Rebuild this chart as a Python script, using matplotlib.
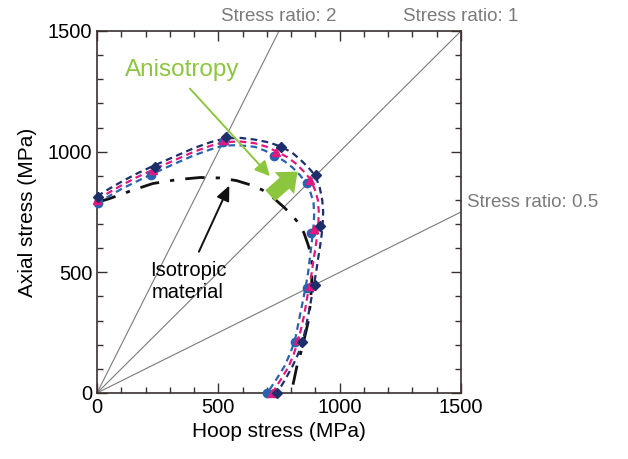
import matplotlib.pyplot as plt
from matplotlib.ticker import MultipleLocator

# measured failure points (hoop, axial) in MPa
navy_x = [5, 239, 530, 758, 902, 919, 898, 843, 740]
navy_y = [811, 938, 1062, 1019, 903, 692, 448, 213, 0]
pink_x = [0, 229, 525, 736, 877, 894, 877, 828, 720]
pink_y = [798, 924, 1050, 1000, 883, 680, 443, 220, 0]
blue_x = [5, 222, 520, 729, 864, 880, 866, 816, 702]
blue_y = [786, 903, 1041, 982, 869, 664, 434, 213, 0]

# fitted curves
navy_cx = [0, 50, 100, 160, 230, 320, 400, 470, 530, 590, 650, 710, 760, 805, 840, 872, 900, 918, 928, 932, 930, 925, 918, 910, 903, 893, 883, 872, 860, 848, 828, 805, 775, 742]
navy_cy = [815, 846, 875, 907, 940, 980, 1015, 1040, 1055, 1057, 1050, 1038, 1020, 995, 965, 933, 900, 850, 800, 750, 700, 650, 600, 550, 500, 445, 390, 330, 270, 215, 160, 110, 55, 0]
pink_cx = [0, 50, 100, 160, 230, 320, 400, 470, 530, 590, 650, 700, 740, 785, 820, 852, 880, 898, 910, 914, 912, 907, 900, 892, 885, 875, 865, 855, 843, 830, 812, 790, 757, 722]
pink_cy = [800, 831, 860, 892, 925, 965, 1000, 1025, 1040, 1042, 1035, 1020, 1000, 977, 950, 918, 885, 842, 800, 750, 700, 650, 600, 550, 500, 445, 390, 330, 275, 220, 165, 110, 55, 0]
blue_cx = [0, 50, 100, 160, 222, 320, 400, 470, 520, 580, 650, 690, 730, 770, 805, 836, 862, 880, 892, 895, 893, 888, 882, 876, 870, 860, 849, 838, 826, 815, 795, 772, 738, 702]
blue_cy = [785, 816, 845, 875, 905, 950, 985, 1010, 1025, 1027, 1020, 1005, 985, 962, 935, 903, 870, 830, 790, 745, 700, 650, 600, 550, 500, 440, 385, 330, 270, 215, 162, 110, 55, 0]
iso_x = [0, 50, 140, 230, 330, 425, 505, 575, 630, 680, 725, 770, 800, 830, 852, 868, 880, 886, 886, 883, 878, 870, 860, 850, 837, 823, 812, 800]
iso_y = [790, 805, 838, 868, 884, 893, 891, 880, 863, 842, 810, 770, 740, 705, 665, 620, 580, 540, 490, 430, 360, 294, 250, 207, 157, 108, 55, 0]

ratios = [2, 1, 0.5]

NAVY = "#1d2f6b"
PINK = "#e5177e"
BLUE = "#2a62b0"
GREEN = "#8cc63f"
GREY = "#7a7a7a"

plt.rcParams["font.family"] = ["Liberation Sans", "DejaVu Sans"]

fig = plt.figure(figsize=(6.28, 4.59), dpi=100)
ax = fig.add_axes([0.1545, 0.1438, 0.5796, 0.7887])

for r in ratios:
    if r >= 1:
        ax.plot([0, 1500 / r], [0, 1500], color=GREY, lw=0.8, zorder=1)
    else:
        ax.plot([0, 1500], [0, 1500 * r], color=GREY, lw=0.8, zorder=1)

ax.plot(iso_x, iso_y, color="#111111", lw=2, dashes=(7, 4, 1.5, 4), zorder=2)
ax.plot(navy_cx, navy_cy, color=NAVY, lw=1.6, dashes=(3, 2), zorder=3)
ax.plot(pink_cx, pink_cy, color=PINK, lw=1.6, dashes=(3, 2), zorder=3)
ax.plot(blue_cx, blue_cy, color=BLUE, lw=1.6, dashes=(3, 2), zorder=3)

ax.plot(blue_x, blue_y, "o", color=BLUE, ms=6, zorder=4, clip_on=False)
ax.plot(pink_x, pink_y, "^", color=PINK, ms=6, zorder=5, clip_on=False)
ax.plot(navy_x, navy_y, "D", color=NAVY, ms=5, zorder=6, clip_on=False)

ax.set_xlim(0, 1500)
ax.set_ylim(0, 1500)
ax.xaxis.set_major_locator(MultipleLocator(500))
ax.yaxis.set_major_locator(MultipleLocator(500))
ax.xaxis.set_minor_locator(MultipleLocator(100))
ax.yaxis.set_minor_locator(MultipleLocator(100))
ax.tick_params(which="both", direction="in", top=True, right=True, color="#3a3030", labelsize=14.5)
ax.tick_params(which="major", length=7, width=1)
ax.tick_params(which="minor", length=4, width=1)
for s in ax.spines.values():
    s.set_color("#3a3030")
    s.set_linewidth(1.2)

ax.set_xlabel("Hoop stress (MPa)", fontsize=15, labelpad=4)
ax.set_ylabel("Axial stress (MPa)", fontsize=15, labelpad=8)

ax.text(750, 1525, "Stress ratio: 2", color=GREY, fontsize=13.5, ha="center", va="bottom")
ax.text(1500, 1525, "Stress ratio: 1", color=GREY, fontsize=13.5, ha="center", va="bottom")
ax.text(1525, 790, "Stress ratio: 0.5", color=GREY, fontsize=13.5, ha="left", va="center")

ax.text(350, 1340, "Anisotropy", color=GREEN, fontsize=17.5, ha="center", va="center")
ax.annotate("", xy=(720, 890), xytext=(375, 1270),
            arrowprops=dict(arrowstyle="-|>,head_length=0.9,head_width=0.45", color=GREEN, lw=1.4))
ax.annotate("", xy=(835, 925), xytext=(705, 810),
            arrowprops=dict(arrowstyle="simple,head_length=0.9,head_width=1.5,tail_width=0.75",
                            color=GREEN, lw=0, mutation_scale=14))

ax.text(375, 460, "Isotropic\nmaterial", fontsize=14.5, ha="center", va="center", linespacing=1.2)
ax.annotate("", xy=(550, 870), xytext=(415, 575),
            arrowprops=dict(arrowstyle="-|>,head_length=0.9,head_width=0.4", color="#111111", lw=1.4))

fig.savefig("out.png", dpi=100)
